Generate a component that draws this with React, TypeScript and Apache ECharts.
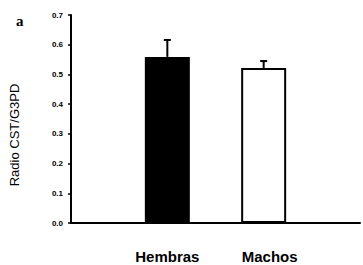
import React, { useEffect, useRef } from "react";
import * as echarts from "echarts";

const categories = ["", "Hembras", "Machos", ""];
const means = [null, 0.559, 0.522, null];
const errors = [null, 0.057, 0.023, null];
const barColors = ["#000000", "#000000", "#ffffff", "#ffffff"];
const yTicks = [0, 0.1, 0.2, 0.3, 0.4, 0.5, 0.6, 0.7];

export default function App() {
  const ref = useRef<HTMLDivElement>(null);
  useEffect(() => {
    if (!ref.current) return;
    const chart = echarts.init(ref.current, undefined, { renderer: "svg" });
    const errData = categories
      .map((c, i) => (means[i] == null ? null : [i, means[i], (means[i] as number) + (errors[i] as number)]))
      .filter((d) => d !== null);
    chart.setOption({
      animation: false,
      backgroundColor: "#ffffff",
      title: {
        text: "a",
        left: 11,
        top: 8,
        textStyle: { fontFamily: "Liberation Serif", fontWeight: "bold", fontSize: 15, color: "#000" },
      },
      grid: { left: 68, right: 0, top: 15, bottom: 42, containLabel: false },
      xAxis: {
        type: "category",
        data: categories,
        boundaryGap: false,
        axisLine: { lineStyle: { color: "#000", width: 2 } },
        axisTick: { show: false },
        axisLabel: {
          margin: 26,
          interval: 0,
          formatter: (v: string) => (v === "Machos" ? "{m|" + v + "}" : v ? "{h|" + v + "}" : ""),
          rich: {
            h: { fontFamily: "Liberation Sans", fontSize: 15, fontWeight: "bold", color: "#000" },
            m: { fontFamily: "Liberation Sans", fontSize: 15, fontWeight: "bold", color: "#000", padding: [0, 0, 0, 12] },
          },
        },
        splitLine: { show: false },
      },
      yAxis: {
        type: "value",
        min: 0,
        max: 0.7,
        interval: 0.1,
        name: "Radio CST/G3PD",
        nameLocation: "middle",
        nameGap: 50,
        nameTextStyle: { fontFamily: "Liberation Sans", fontSize: 13, color: "#000", padding: [0, 32, 0, 0] },
        axisLine: { show: true, lineStyle: { color: "#000", width: 2 } },
        axisTick: { show: true, length: 3, lineStyle: { color: "#000", width: 1.5 } },
        axisLabel: {
          margin: 8,
          fontFamily: "Liberation Sans",
          fontSize: 8,
          fontWeight: "bold",
          color: "#000",
          formatter: (v: number) => {
            const t = yTicks.find((y) => Math.abs(y - v) < 1e-9);
            return t === undefined ? "" : t.toFixed(1);
          },
        },
        splitLine: { show: false },
      },
      series: [
        {
          type: "bar",
          barWidth: 45,
          data: means.map((m, i) =>
            m == null
              ? null
              : {
                  value: m,
                  itemStyle: {
                    color: barColors[i],
                    borderColor: "#000",
                    borderWidth: 2,
                  },
                }
          ),
        },
        {
          type: "custom",
          data: errData,
          z: 1,
          renderItem: (params: any, api: any) => {
            const x = api.value(0);
            const top = api.coord([x, api.value(2)]);
            const base = api.coord([x, api.value(1)]);
            return {
              type: "group",
              children: [
                {
                  type: "line",
                  shape: { x1: top[0], y1: top[1], x2: base[0], y2: base[1] },
                  style: { stroke: "#000", lineWidth: 2 },
                },
                {
                  type: "line",
                  shape: { x1: top[0] - 3.5, y1: top[1], x2: top[0] + 3.5, y2: top[1] },
                  style: { stroke: "#000", lineWidth: 2 },
                },
              ],
            };
          },
        },
      ],
    });
    return () => chart.dispose();
  }, []);
  return <div ref={ref} style={{ width: 363, height: 265, position: "absolute", left: 0, top: 0 }} />;
}
